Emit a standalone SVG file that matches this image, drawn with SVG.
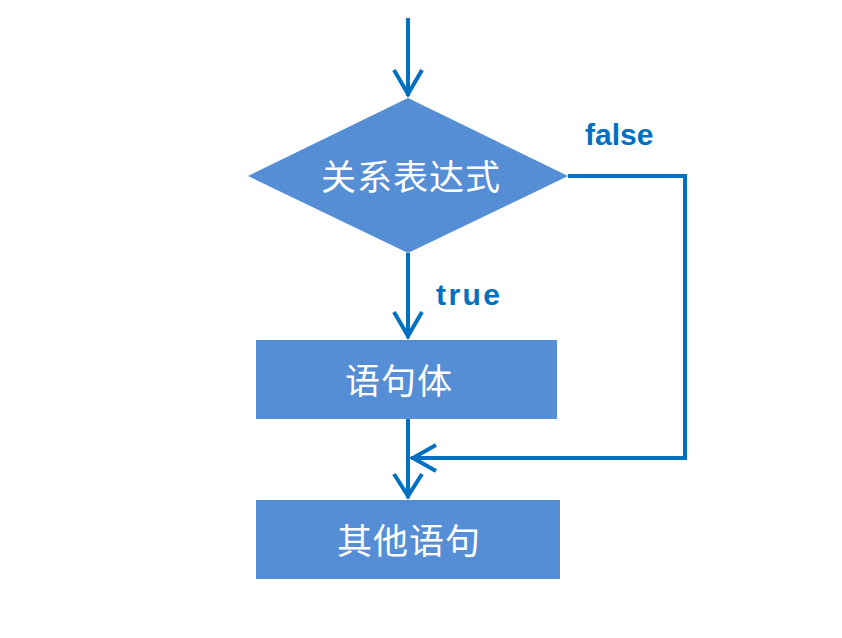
<svg xmlns="http://www.w3.org/2000/svg" width="842" height="638" viewBox="0 0 842 638">
<style>
.shape{fill:#558ED5;}
.lbl{fill:#FFFFFF;font-family:"Noto Sans CJK SC","Noto Sans",sans-serif;font-size:35px;letter-spacing:1px;text-anchor:middle;dominant-baseline:central;}
.edge{fill:none;stroke:#0070C0;stroke-width:4;}
.head{fill:none;stroke:#0070C0;stroke-width:4;stroke-linejoin:miter;}
.elbl{fill:#0070C0;font-family:"Liberation Sans",Arial,sans-serif;font-size:30px;font-weight:bold;}
</style>
<rect width="842" height="638" fill="#FFFFFF"/>
<g id="connectors">
<line class="edge" x1="408" y1="18" x2="408" y2="96"/>
<polyline class="head" points="394,70 408,94 422,70"/>
<line class="edge" x1="408" y1="253" x2="408" y2="338"/>
<polyline class="head" points="394,312 408,336 422,312"/>
<line class="edge" x1="408" y1="419" x2="408" y2="498"/>
<polyline class="head" points="394,474 408,496 422,474"/>
<polyline class="edge" points="568,176 685,176 685,458 411,458"/>
<polyline class="head" points="436,445 413,458 436,471"/>
<text class="elbl" x="585" y="145">false</text>
<text class="elbl" x="436" y="305" textLength="64">true</text>
</g>
<g id="decision">
<polygon class="shape" points="408,98 568,176 408,253 248,176"/>
<text class="lbl" x="411" y="174">关系表达式</text>
</g>
<g id="body">
<rect class="shape" x="256" y="340" width="301" height="79"/>
<text class="lbl" x="399" y="378">语句体</text>
</g>
<g id="other">
<rect class="shape" x="256" y="500" width="304" height="79"/>
<text class="lbl" x="409" y="538">其他语句</text>
</g>
</svg>
